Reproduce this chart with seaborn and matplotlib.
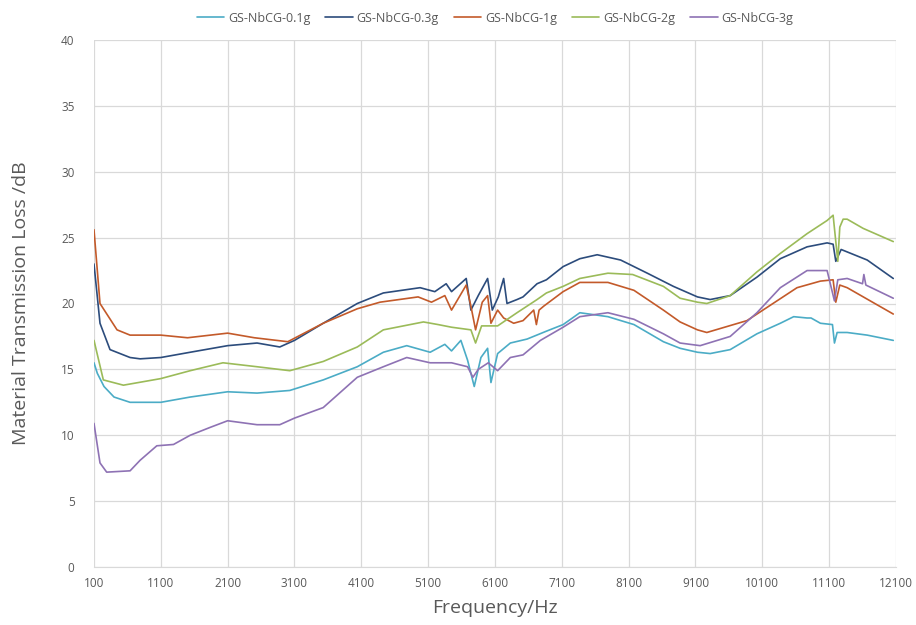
import pandas as pd
import seaborn as sns
import matplotlib.pyplot as plt

# values (frequency in Hz, loss in dB)
freq_01 = [100, 150, 250, 400, 640, 1100, 1540, 2100, 2540, 3030, 3530, 4040, 4430, 4780, 5130,
           5350, 5450, 5590, 5690, 5790, 5890, 5990, 6040, 6140, 6330, 6580, 6870, 7120, 7370,
           7790, 8180, 8620, 8870, 9130, 9320, 9620, 10020, 10370, 10570, 10770, 10830, 10970,
           11150, 11180, 11220, 11370, 11670, 12060]
tl_01 = [15.5, 14.7, 13.7, 12.9, 12.5, 12.5, 12.9, 13.3, 13.2, 13.4, 14.2, 15.2, 16.3, 16.8, 16.3,
         16.9, 16.4, 17.2, 15.7, 13.7, 15.9, 16.6, 14.0, 16.2, 17.0, 17.3, 17.9, 18.4, 19.3,
         19.0, 18.4, 17.1, 16.6, 16.3, 16.2, 16.5, 17.7, 18.5, 19.0, 18.9, 18.9, 18.5,
         18.4, 17.0, 17.8, 17.8, 17.6, 17.2]

freq_03 = [100, 190, 340, 640, 790, 1100, 1540, 2100, 2540, 2880, 3100, 3530, 4040, 4430, 4980,
           5200, 5370, 5450, 5670, 5740, 5850, 5990, 6060, 6150, 6230, 6280, 6430, 6520, 6730,
           6870, 7120, 7370, 7630, 7980, 8380, 8770, 9130, 9320, 9620, 10020, 10370, 10770,
           11070, 11160, 11200, 11280, 11670, 12060]
tl_03 = [23.0, 18.5, 16.5, 15.9, 15.8, 15.9, 16.3, 16.8, 17.0, 16.7, 17.2, 18.5, 20.0, 20.8, 21.2,
         20.9, 21.5, 20.9, 21.9, 19.5, 20.6, 21.9, 19.5, 20.5, 21.9, 20.0, 20.3, 20.5, 21.5,
         21.8, 22.8, 23.4, 23.7, 23.3, 22.3, 21.3, 20.5, 20.3, 20.6, 22.0, 23.4, 24.3,
         24.6, 24.5, 23.2, 24.1, 23.3, 21.9]

freq_1 = [100, 190, 445, 640, 1100, 1500, 2100, 2500, 3000, 3530, 4040, 4380, 4950, 5150, 5350,
          5450, 5670, 5740, 5810, 5910, 5990, 6040, 6140, 6230, 6380, 6520, 6680, 6720, 6760,
          6830, 7120, 7370, 7790, 8180, 8620, 8870, 9130, 9270, 9870, 10170, 10620, 10970,
          11160, 11200, 11260, 11370, 12060]
tl_1 = [25.6, 20.0, 18.0, 17.6, 17.6, 17.4, 17.75, 17.4, 17.1, 18.5, 19.6, 20.1, 20.5, 20.1, 20.6,
        19.5, 21.4, 19.8, 18.0, 20.1, 20.6, 18.5, 19.5, 18.9, 18.5, 18.7, 19.5, 18.4, 19.5,
        19.8, 20.9, 21.6, 21.6, 21.0, 19.5, 18.6, 18.0, 17.8, 18.7, 19.7, 21.2, 21.7,
        21.8, 20.1, 21.4, 21.2, 19.2]

freq_2 = [100, 240, 540, 1100, 1540, 2030, 2540, 3030, 3530, 4040, 4430, 5030, 5250, 5450, 5740,
          5810, 5900, 6140, 6430, 6730, 6870, 7120, 7370, 7790, 8160, 8620, 8870, 9130, 9270,
          9620, 10020, 10370, 10770, 11070, 11160, 11230, 11260, 11310, 11370, 11610, 12060]
tl_2 = [17.2, 14.2, 13.8, 14.3, 14.9, 15.5, 15.2, 14.9, 15.6, 16.7, 18.0, 18.6, 18.4, 18.2, 18.0,
        17.0, 18.3, 18.3, 19.3, 20.3, 20.8, 21.3, 21.9, 22.3, 22.2, 21.3, 20.4, 20.1, 20.0,
        20.6, 22.4, 23.8, 25.3, 26.3, 26.7, 23.2, 25.8, 26.4, 26.4, 25.7, 24.7]

freq_3 = [100, 190, 290, 640, 790, 1040, 1290, 1540, 1840, 2100, 2540, 2880, 3100, 3530, 4040,
          4430, 4780, 5130, 5450, 5690, 5770, 5850, 6000, 6140, 6330, 6520, 6780, 7120, 7370,
          7790, 8180, 8620, 8870, 9170, 9620, 10020, 10370, 10770, 11070, 11180, 11230, 11370,
          11600, 11620, 11650, 12060]
tl_3 = [10.9, 7.9, 7.2, 7.3, 8.1, 9.2, 9.3, 10.0, 10.6, 11.1, 10.8, 10.8, 11.3, 12.1, 14.4,
        15.2, 15.9, 15.5, 15.5, 15.2, 14.4, 15.0, 15.5, 14.9, 15.9, 16.1, 17.2, 18.2, 19.0,
        19.3, 18.8, 17.7, 17.0, 16.8, 17.5, 19.3, 21.2, 22.5, 22.5, 20.2, 21.8, 21.9,
        21.5, 22.2, 21.4, 20.4]

labels = ["GS-NbCG-0.1g", "GS-NbCG-0.3g", "GS-NbCG-1g", "GS-NbCG-2g", "GS-NbCG-3g"]
colors = ["#4BACC6", "#2C4C7C", "#C35A2A", "#9BBB59", "#8E72B4"]

frames = []
for lab, f, v in zip(labels, [freq_01, freq_03, freq_1, freq_2, freq_3],
                     [tl_01, tl_03, tl_1, tl_2, tl_3]):
    frames.append(pd.DataFrame({"freq": f, "loss": v, "sample": lab}))
df = pd.concat(frames, ignore_index=True)

sns.set_style("white")
plt.rcParams["font.family"] = ["Open Sans", "DejaVu Sans"]
gray = "#595959"

fig = plt.figure(figsize=(9.16, 6.25), dpi=100)
ax = fig.add_axes([0.1026, 0.0928, 0.8755, 0.8432])

sns.lineplot(data=df, x="freq", y="loss", hue="sample", hue_order=labels,
             palette=dict(zip(labels, colors)), estimator=None, sort=True,
             linewidth=1.2, ax=ax)

ax.set_xlim(100, 12100)
ax.set_ylim(0, 40)
ax.set_xticks(range(100, 12101, 1000))
ax.set_yticks(range(0, 41, 5))
ax.grid(True, color="#D9D9D9", linewidth=0.9)
for s in ["top", "right", "left"]:
    ax.spines[s].set_visible(False)
ax.spines["bottom"].set_color("#D9D9D9")
ax.tick_params(axis="x", length=0, labelsize=8.5, labelcolor=gray, pad=7)
ax.tick_params(axis="y", length=0, labelsize=8.5, labelcolor=gray, pad=14)

ax.set_xlabel("Frequency/Hz", fontsize=14, color=gray, labelpad=7)
ax.set_ylabel("Material Transmission Loss /dB", fontsize=14, color=gray, labelpad=22)

handles, _ = ax.get_legend_handles_labels()
ax.legend(handles, labels, loc="upper center", bbox_to_anchor=(0.5, 1.075), ncol=5,
          frameon=False, fontsize=9, labelcolor=gray, handlelength=2.2,
          handletextpad=0.3, columnspacing=1.2)

fig.savefig("out.png", dpi=100)
